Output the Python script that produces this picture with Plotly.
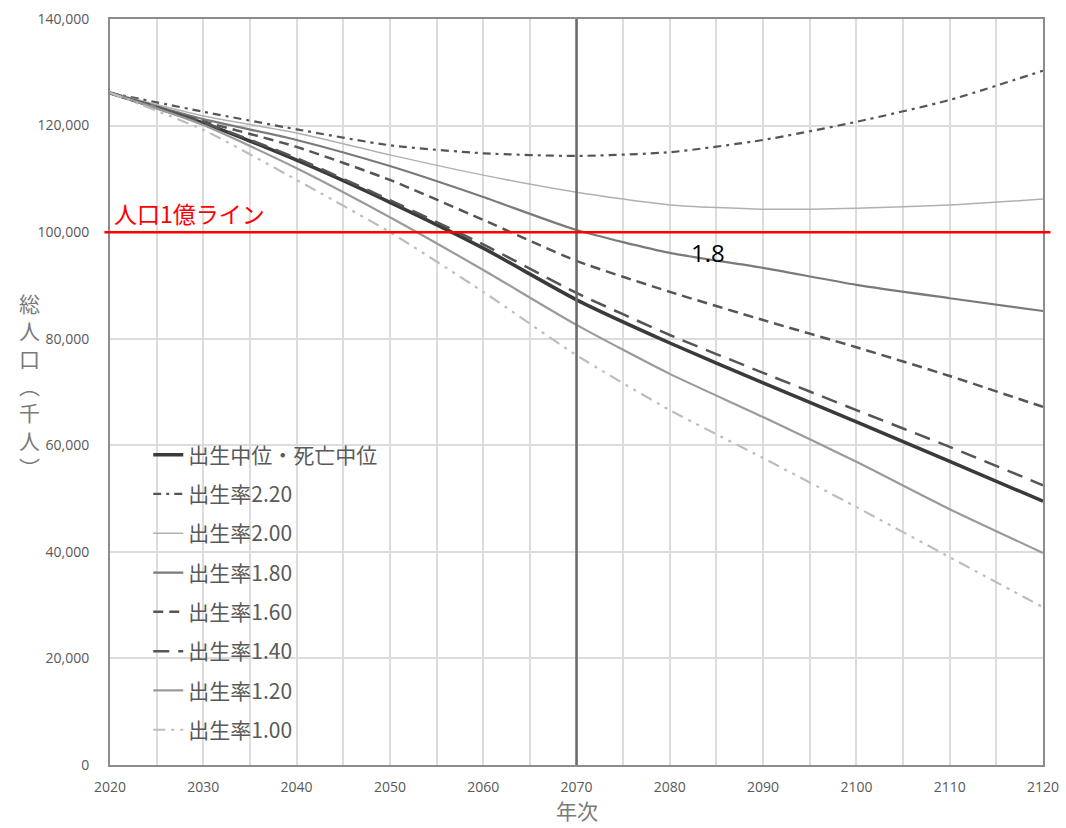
import plotly.graph_objects as go

years = [2020, 2030, 2040, 2050, 2060, 2070, 2080, 2090, 2100, 2110, 2120]

medium = [126146, 120500, 113500, 105600, 97000, 87300, 79200, 71700, 64400, 57000, 49500]
tfr_220 = [126146, 122600, 119300, 116300, 114800, 114300, 115000, 117300, 120700, 124800, 130300]
tfr_200 = [126146, 121800, 118600, 114500, 110700, 107500, 105100, 104300, 104500, 105100, 106200]
tfr_180 = [126146, 121200, 117300, 112400, 106600, 100400, 96100, 93300, 90100, 87600, 85200]
tfr_160 = [126146, 120800, 116000, 109800, 102300, 94600, 88800, 83500, 78400, 73000, 67200]
tfr_140 = [126146, 120600, 113900, 106000, 97700, 88600, 80700, 73600, 66600, 59700, 52500]
tfr_120 = [126146, 120100, 112000, 102800, 92900, 82600, 73400, 65300, 56900, 48000, 39800]
tfr_100 = [126146, 119200, 109800, 100000, 88800, 76900, 66600, 57600, 48400, 39000, 29600]

names = ["出生中位・死亡中位", "出生率2.20", "出生率2.00", "出生率1.80",
         "出生率1.60", "出生率1.40", "出生率1.20", "出生率1.00"]
series = [medium, tfr_220, tfr_200, tfr_180, tfr_160, tfr_140, tfr_120, tfr_100]
styles = [
    dict(color="#3a3a3a", width=3.5, dash="solid"),
    dict(color="#555555", width=2.2, dash="8px,5px,3px,5px"),
    dict(color="#b0b0b0", width=1.5, dash="solid"),
    dict(color="#7a7a7a", width=2.2, dash="solid"),
    dict(color="#555555", width=2.5, dash="10px,6px"),
    dict(color="#555555", width=2.5, dash="16px,9px"),
    dict(color="#9a9a9a", width=2.2, dash="solid"),
    dict(color="#bdbdbd", width=2.2, dash="12px,6px,3px,6px,3px,6px"),
]

fig = go.Figure()
for i, (n, s, st) in enumerate(zip(names, series, styles)):
    fig.add_trace(go.Scatter(x=years, y=s, mode="lines", name=n,
                             line=dict(shape="spline", smoothing=0.6, **st),
                             legendgroup=f"g{i}"))

fig.add_shape(type="line", xref="x", yref="paper", x0=2070, x1=2070, y0=0, y1=1,
              line=dict(color="#6a6a6a", width=2.5))
fig.add_shape(type="line", xref="paper", yref="y", x0=-0.006, x1=1.008, y0=100000, y1=100000,
              line=dict(color="#ff0000", width=2.5))

fig.add_annotation(x=0.002, xref="paper", y=100000, yref="y", yanchor="bottom", xanchor="left",
                   text="人口1億ライン", showarrow=False, yshift=0,
                   font=dict(family="Noto Sans CJK JP", size=23, color="#ff0000"))
fig.add_annotation(x=2084.1, xref="x", y=96200, yref="y", text="1.8", showarrow=False,
                   font=dict(family="Open Sans", size=24, color="#000000"))
fig.add_annotation(x=-0.086, xref="paper", y=0.51, yref="paper", xanchor="center",
                   text="総<br>人<br>口<br>︵<br>千<br>人<br>︶", showarrow=False,
                   font=dict(family="Noto Sans CJK JP", size=21, color="#7a7a7a"))
fig.add_annotation(x=2070, xref="x", y=-0.060, yref="paper", yanchor="middle", xanchor="center",
                   text="年次", showarrow=False,
                   font=dict(family="Noto Sans CJK JP", size=21, color="#7a7a7a"))

fig.update_layout(
    width=1066, height=828,
    margin=dict(l=110, r=23, t=19, b=63),
    plot_bgcolor="white", paper_bgcolor="white",
    showlegend=True,
    legend=dict(x=0.041, y=0.443, xanchor="left", yanchor="top",
                bgcolor="rgba(0,0,0,0)", tracegroupgap=9,
                font=dict(family="Noto Sans CJK JP", size=21, color="#595959")),
    xaxis=dict(range=[2020, 2120], dtick=10, tick0=2020, showgrid=True,
               gridcolor="#dcdcdc", gridwidth=1.5,
               minor=dict(dtick=5, showgrid=True, gridcolor="#dcdcdc", gridwidth=1.5),
               showline=True, linecolor="#8c8c8c", linewidth=2, mirror=True,
               ticks="", zeroline=False, ticklabelstandoff=8, automargin=False,
               ticklabeloverflow="allow",
               tickfont=dict(family="Open Sans", size=14, color="#595959")),
    yaxis=dict(range=[0, 140000], dtick=20000, tickformat=",", showgrid=True,
               gridcolor="#dcdcdc", gridwidth=1.5,
               showline=True, linecolor="#8c8c8c", linewidth=2, mirror=True,
               ticks="", zeroline=False, ticklabelstandoff=16, automargin=False,
               tickfont=dict(family="Open Sans", size=14, color="#595959")),
)

fig.write_html("out.html", config={"displayModeBar": False},
               post_script="document.body.style.margin='0';document.body.style.overflow='hidden';")
